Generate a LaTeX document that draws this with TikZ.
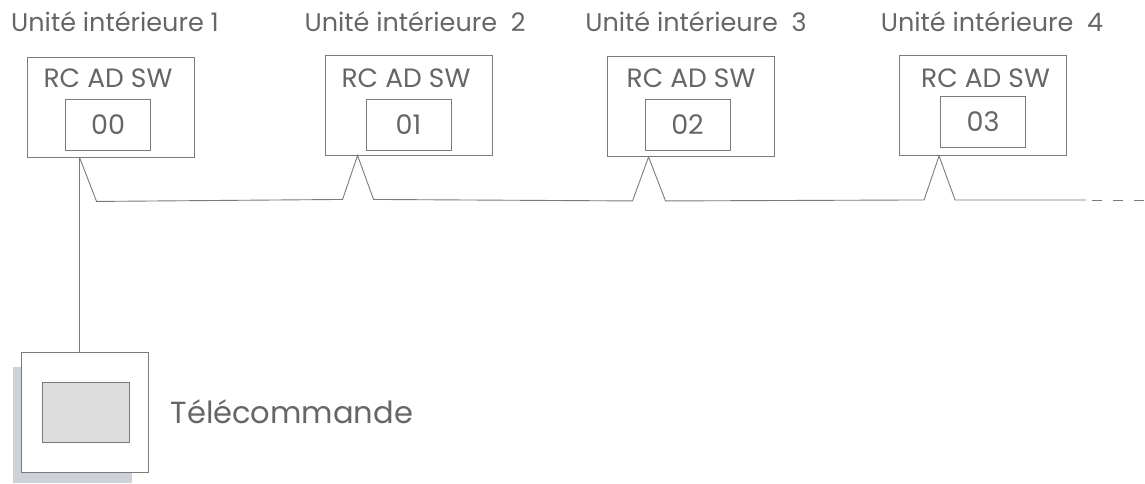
\documentclass[tikz,border=0pt]{standalone}
\usepackage{fontspec}
\setmainfont{Poppins}
\usetikzlibrary{positioning, calc}
\definecolor{wiregray}{HTML}{7A7A7A}
\definecolor{textgray}{HTML}{666666}
\definecolor{shadowgray}{HTML}{CDD1D8}
\definecolor{screengray}{HTML}{DCDCDC}

\begin{document}
\begin{tikzpicture}[
  x=1pt, y=-1pt,
  unitbox/.style={
    rectangle, draw=wiregray, line width=0.9pt, fill=white,
    minimum width=167pt, minimum height=100pt, inner sep=0pt
  },
  addrbox/.style={
    rectangle, draw=wiregray, line width=0.9pt,
    minimum width=85pt, minimum height=51pt, inner sep=0pt,
    text=textgray, font=\fontsize{27}{30}\selectfont
  },
  switchlabel/.style={text=textgray, font=\fontsize{26.5}{30}\selectfont, inner sep=0pt},
  unitname/.style={text=textgray, font=\fontsize{25.5}{30}\selectfont, inner sep=0pt},
  wire/.style={draw=wiregray, line width=0.9pt},
]
\useasboundingbox (0,0) rectangle (1145,484);

% Unit 1
\node[unitname] (name1) at (115,22) {Unité intérieure 1};
\node[unitbox] (unit1) at (110.5,107) {};
\node[switchlabel] (sw1) at (108,78) {RC AD SW};
\node[addrbox] (addr1) at (108,124.5) {00};

% Unit 2
\node[unitname] (name2) at (415,22) {Unité intérieure~ 2};
\node[unitbox] (unit2) at (408.5,105) {};
\node[switchlabel] (sw2) at (406,78) {RC AD SW};
\node[addrbox] (addr2) at (408.5,124.5) {01};

% Unit 3
\node[unitname] (name3) at (696,22) {Unité intérieure~ 3};
\node[unitbox] (unit3) at (690.5,106.5) {};
\node[switchlabel] (sw3) at (691,78) {RC AD SW};
\node[addrbox] (addr3) at (687.5,124.5) {02};

% Unit 4
\node[unitname] (name4) at (992,22) {Unité intérieure~ 4};
\node[unitbox] (unit4) at (983,105.5) {};
\node[switchlabel] (sw4) at (985.5,78) {RC AD SW};
\node[addrbox] (addr4) at (983,122) {03};

% Remote controller
\fill[shadowgray] (13,367) rectangle (132,483);
\node[rectangle, draw=wiregray, line width=0.9pt, fill=white,
  minimum width=127pt, minimum height=120pt, inner sep=0pt]
  (remote) at (84.5,412) {};
\node[rectangle, draw=wiregray, line width=0.9pt, fill=screengray,
  minimum width=87pt, minimum height=60pt, inner sep=0pt]
  (screen) at (85.5,412) {};
\node[text=textgray, font=\fontsize{30.5}{34}\selectfont, inner sep=0pt,
  anchor=west, right=22pt of remote] (remotename) {Télécommande};

% Bus taps
\coordinate (tap1) at ($(unit1.south west)+(53,0)$);
\coordinate (tap2) at ($(unit2.south west)+(33,0)$);
\coordinate (tap3) at ($(unit3.south west)+(42,0)$);
\coordinate (tap4) at ($(unit4.south west)+(40,0)$);

% Bus line
\draw[wire] (tap1) -- ++(17,44)
  -- ($(tap2)+(-15,44)$) -- (tap2) -- ++(16,44)
  -- ($(tap3)+(-16,44)$) -- (tap3) -- ++(17,44)
  -- ($(tap4)+(-15,44)$) -- (tap4) -- ++(16,44)
  -- ++(131,0) coordinate (busend);
\draw[wire, dash pattern=on 10pt off 11pt] ($(busend)+(6,0)$) -- ++(52,0);

% Remote cable
\draw[wire] (tap1) -- (tap1 |- remote.north);

\end{tikzpicture}
\end{document}
